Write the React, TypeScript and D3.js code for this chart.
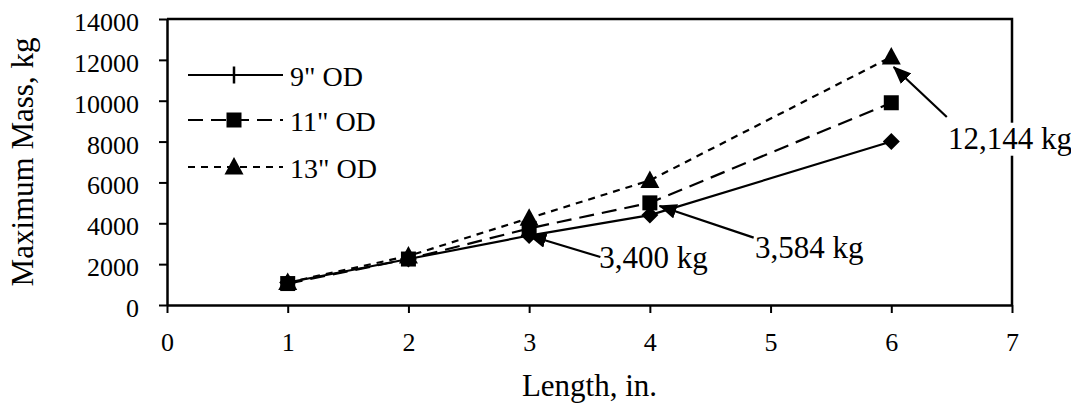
import { useEffect, useRef } from "react";
import * as d3 from "d3";

const lengths = [1, 2, 3, 4, 6];
const od9 = [1100, 2250, 3400, 4400, 8000];
const od11 = [1050, 2250, 3750, 5000, 9900];
const od13 = [1100, 2400, 4250, 6100, 12144];

const seriesNames = ['9" OD', '11" OD', '13" OD'];
const yTicks = [0, 2000, 4000, 6000, 8000, 10000, 12000, 14000];
const xTicks = [0, 1, 2, 3, 4, 5, 6, 7];

// annotation: label, arrow tip (data), arrow tail (data), text start (data)
const noteLabels = ["3,400 kg", "3,584 kg", "12,144 kg"];
const noteTips = [
  [3.0, 3400],
  [4.08, 4850],
  [6.02, 11650],
];
const noteTails = [
  [3.59, 2350],
  [4.86, 3300],
  [6.46, 9200],
];
const noteText = [
  [3.58, 1800],
  [4.87, 2300],
  [6.47, 7650],
];

const W = 1071;
const H = 409;
const FONT = "'Liberation Serif', 'Times New Roman', serif";

export default function App() {
  const ref = useRef<SVGSVGElement | null>(null);

  useEffect(() => {
    if (!ref.current) return;
    const svg = d3.select(ref.current);
    svg.selectAll("*").remove();

    const left = 167,
      right = 1012,
      top = 19,
      bottom = 305;

    const x = d3.scaleLinear([0, 7], [left, right]);
    const y = d3.scaleLinear([0, 14000], [bottom, top]);

    svg
      .append("defs")
      .append("marker")
      .attr("id", "arrow")
      .attr("markerUnits", "userSpaceOnUse")
      .attr("viewBox", "0 0 18 15")
      .attr("markerWidth", 18)
      .attr("markerHeight", 15)
      .attr("refX", 17)
      .attr("refY", 7.5)
      .attr("orient", "auto")
      .append("path")
      .attr("d", "M0,0 L18,7.5 L0,15 Z")
      .attr("fill", "#000");

    // frame (top + right)
    svg
      .append("path")
      .attr("d", `M${left},${top} H${right} V${bottom}`)
      .attr("fill", "none")
      .attr("stroke", "#000")
      .attr("stroke-width", 2.5);

    // axes
    const yAxis = svg
      .append("g")
      .attr("transform", `translate(${left},0)`)
      .call(
        d3
          .axisLeft(y)
          .tickValues(yTicks)
          .tickSize(8)
          .tickSizeOuter(0)
          .tickPadding(20)
          .tickFormat((d) => String(d))
      );
    const xAxis = svg
      .append("g")
      .attr("transform", `translate(0,${bottom})`)
      .call(
        d3
          .axisBottom(x)
          .tickValues(xTicks)
          .tickSize(8)
          .tickSizeOuter(0)
          .tickPadding(20)
          .tickFormat((d) => String(d))
      );
    [yAxis, xAxis].forEach((a) => {
      a.select(".domain").attr("stroke-width", 2.5);
      a.selectAll(".tick line").attr("stroke-width", 2);
      a.selectAll("text")
        .attr("font-family", FONT)
        .attr("font-size", 26)
        .attr("fill", "#000");
    });
    yAxis.selectAll("text").attr("dy", "0.44em");

    // axis titles
    svg
      .append("text")
      .attr("transform", `translate(33,${(top + bottom) / 2}) rotate(-90)`)
      .attr("text-anchor", "middle")
      .attr("font-family", FONT)
      .attr("font-size", 31)
      .text("Maximum Mass, kg");
    svg
      .append("text")
      .attr("x", (left + right) / 2)
      .attr("y", 396)
      .attr("text-anchor", "middle")
      .attr("font-family", FONT)
      .attr("font-size", 31)
      .text("Length, in.");

    const data = [od9, od11, od13];
    const dashes = [null, "15,8", "7,6"];
    const line = d3
      .line<number>()
      .x((_, i) => x(lengths[i]))
      .y((d) => y(d));

    const markerPath = (k: number) => {
      if (k === 0) return "M0,-8.5 L8.5,0 L0,8.5 L-8.5,0 Z";
      if (k === 1) return "M-7.5,-7.5 H7.5 V7.5 H-7.5 Z";
      return "M0,-10 L9.5,7.5 L-9.5,7.5 Z";
    };

    data.forEach((vals, k) => {
      svg
        .append("path")
        .attr("d", line(vals) ?? "")
        .attr("fill", "none")
        .attr("stroke", "#000")
        .attr("stroke-width", 2.2)
        .attr("stroke-dasharray", dashes[k]);
      svg
        .append("g")
        .selectAll("path")
        .data(vals)
        .join("path")
        .attr(
          "transform",
          (d, i) => `translate(${x(lengths[i])},${y(d)})`
        )
        .attr("d", markerPath(k))
        .attr("fill", "#000");
    });

    // legend
    const legY = [75, 120, 167];
    const leg = svg.append("g");
    seriesNames.forEach((name, k) => {
      leg
        .append("line")
        .attr("x1", 188)
        .attr("x2", 283)
        .attr("y1", legY[k])
        .attr("y2", legY[k])
        .attr("stroke", "#000")
        .attr("stroke-width", 2.2)
        .attr("stroke-dasharray", dashes[k]);
      if (k === 0) {
        leg
          .append("line")
          .attr("x1", 234)
          .attr("x2", 234)
          .attr("y1", legY[k] - 8.5)
          .attr("y2", legY[k] + 8.5)
          .attr("stroke", "#000")
          .attr("stroke-width", 2.5);
      } else {
        leg
          .append("path")
          .attr("transform", `translate(234,${legY[k]})`)
          .attr("d", markerPath(k))
          .attr("fill", "#000");
      }
      leg
        .append("text")
        .attr("x", 290)
        .attr("y", legY[k] + 11)
        .attr("font-family", FONT)
        .attr("font-size", 28)
        .text(name);
    });

    // annotations
    noteLabels.forEach((label, k) => {
      const t = svg
        .append("text")
        .attr("x", x(noteText[k][0]))
        .attr("y", y(noteText[k][1]))
        .attr("font-family", FONT)
        .attr("font-size", 31)
        .text(label);
      const bb = (t.node() as SVGTextElement).getBBox();
      svg
        .insert("rect", () => t.node() as any)
        .attr("x", bb.x - 2)
        .attr("y", bb.y + 2)
        .attr("width", bb.width + 4)
        .attr("height", bb.height - 2)
        .attr("fill", "#fff");
      svg
        .append("line")
        .attr("x1", x(noteTails[k][0]))
        .attr("y1", y(noteTails[k][1]))
        .attr("x2", x(noteTips[k][0]))
        .attr("y2", y(noteTips[k][1]))
        .attr("stroke", "#000")
        .attr("stroke-width", 2.2)
        .attr("marker-end", "url(#arrow)");
    });
  }, []);

  return (
    <svg
      ref={ref}
      width={W}
      height={H}
      style={{ position: "absolute", left: 0, top: 0, background: "#fff" }}
    />
  );
}
